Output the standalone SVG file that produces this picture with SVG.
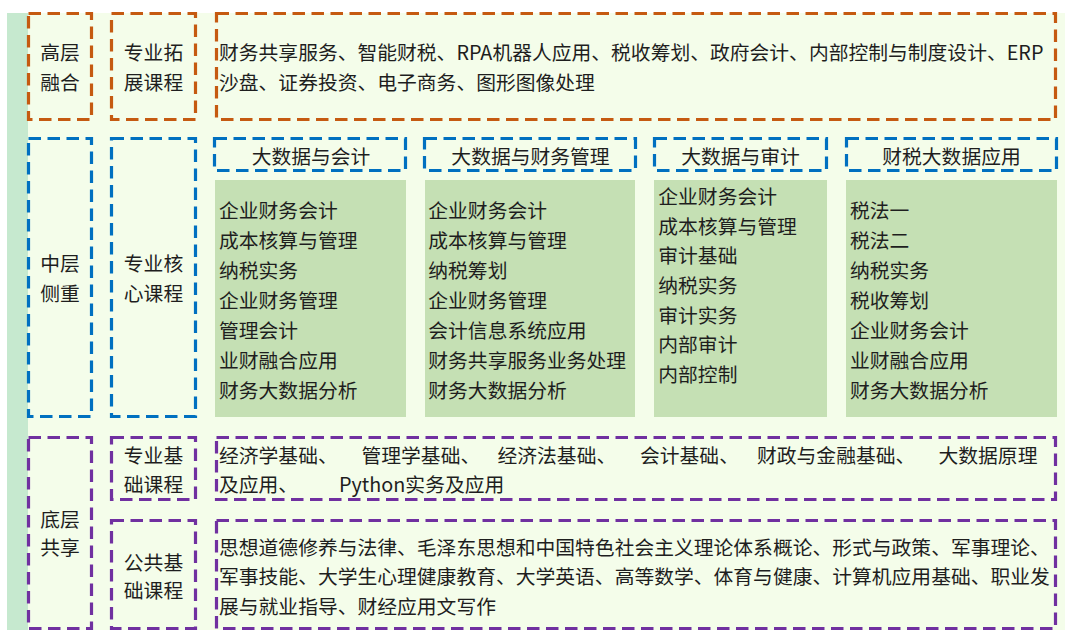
<svg xmlns="http://www.w3.org/2000/svg" width="1065" height="630" viewBox="0 0 1065 630">
<style>
text{font-family:"Noto Sans CJK SC","Noto Sans",sans-serif;font-size:19.8px;fill:#1e1e1e;dominant-baseline:central}
.c{text-anchor:middle}
.box{fill:none;stroke-width:3.2;stroke-dasharray:12.5 6.5}
.o{stroke:#C55A11}
.b{stroke:#0070C0}
.p{stroke:#7030A0}
.g{fill:#C5E0B4}
</style>
<rect x="7" y="13" width="1058" height="617" fill="#F4FDEA"/>
<rect x="7" y="13" width="21" height="617" fill="#C6E9CF"/>

<g id="top-label">
<rect class="box o" x="28.5" y="13.5" width="63" height="106"/>
<text class="c" x="60" y="51">高层</text>
<text class="c" x="60" y="81">融合</text>
</g>
<g id="top-cat">
<rect class="box o" x="111.5" y="13.5" width="84" height="106"/>
<text class="c" x="153.5" y="51">专业拓</text>
<text class="c" x="153.5" y="81">展课程</text>
</g>
<g id="top-content">
<rect class="box o" x="216.5" y="13.5" width="839" height="106"/>
<text x="219" y="51">财务共享服务、智能财税、RPA机器人应用、税收筹划、政府会计、内部控制与制度设计、ERP</text>
<text x="219" y="81">沙盘、证券投资、电子商务、图形图像处理</text>
</g>

<g id="mid-label">
<rect class="box b" x="28.5" y="138.5" width="63" height="278"/>
<text class="c" x="60" y="262.5">中层</text>
<text class="c" x="60" y="292.3">侧重</text>
</g>
<g id="mid-cat">
<rect class="box b" x="111.5" y="138.5" width="84" height="278"/>
<text class="c" x="153.5" y="262.5">专业核</text>
<text class="c" x="153.5" y="292.3">心课程</text>
</g>

<g id="col1">
<rect class="box b" x="214.5" y="138.5" width="191" height="32"/>
<text class="c" x="311" y="155">大数据与会计</text>
<rect class="g" x="215" y="180" width="191" height="237"/>
<text x="219" y="209.7">企业财务会计</text>
<text x="219" y="239.6">成本核算与管理</text>
<text x="219" y="269.5">纳税实务</text>
<text x="219" y="299.4">企业财务管理</text>
<text x="219" y="329.3">管理会计</text>
<text x="219" y="359.2">业财融合应用</text>
<text x="219" y="389.1">财务大数据分析</text>
</g>
<g id="col2">
<rect class="box b" x="424.5" y="138.5" width="211" height="32"/>
<text class="c" x="530.5" y="155">大数据与财务管理</text>
<rect class="g" x="425" y="180" width="210" height="237"/>
<text x="428.3" y="209.7">企业财务会计</text>
<text x="428.3" y="239.6">成本核算与管理</text>
<text x="428.3" y="269.5">纳税筹划</text>
<text x="428.3" y="299.4">企业财务管理</text>
<text x="428.3" y="329.3">会计信息系统应用</text>
<text x="428.3" y="359.2">财务共享服务业务处理</text>
<text x="428.3" y="389.1">财务大数据分析</text>
</g>
<g id="col3">
<rect class="box b" x="654.5" y="138.5" width="172" height="32"/>
<text class="c" x="740.5" y="155">大数据与审计</text>
<rect class="g" x="654" y="180" width="173" height="237"/>
<text x="658.3" y="195.7">企业财务会计</text>
<text x="658.3" y="225.3">成本核算与管理</text>
<text x="658.3" y="254.9">审计基础</text>
<text x="658.3" y="284.5">纳税实务</text>
<text x="658.3" y="314.1">审计实务</text>
<text x="658.3" y="343.7">内部审计</text>
<text x="658.3" y="373.3">内部控制</text>
</g>
<g id="col4">
<rect class="box b" x="846.5" y="138.5" width="210" height="32"/>
<text class="c" x="951.5" y="155">财税大数据应用</text>
<rect class="g" x="846" y="180" width="211" height="237"/>
<text x="850" y="209.7">税法一</text>
<text x="850" y="239.6">税法二</text>
<text x="850" y="269.5">纳税实务</text>
<text x="850" y="299.4">税收筹划</text>
<text x="850" y="329.3">企业财务会计</text>
<text x="850" y="359.2">业财融合应用</text>
<text x="850" y="389.1">财务大数据分析</text>
</g>

<g id="bot-label">
<rect class="box p" x="28.5" y="437.5" width="63" height="191"/>
<text class="c" x="60" y="518.5">底层</text>
<text class="c" x="60" y="546.5">共享</text>
</g>
<g id="bot-cat1">
<rect class="box p" x="111.5" y="437.5" width="84" height="62"/>
<text class="c" x="153.5" y="454">专业基</text>
<text class="c" x="153.5" y="483">础课程</text>
</g>
<g id="bot-content1">
<rect class="box p" x="216.5" y="437.5" width="839" height="62"/>
<text y="454"><tspan x="219">经济学基础、</tspan><tspan x="361.5">管理学基础、</tspan><tspan x="497.5">经济法基础、</tspan><tspan x="640">会计基础、</tspan><tspan x="757">财政与金融基础、</tspan><tspan x="938.5">大数据原理</tspan></text>
<text y="483"><tspan x="219">及应用、</tspan><tspan x="339">Python实务及应用</tspan></text>
</g>
<g id="bot-cat2">
<rect class="box p" x="111.5" y="520.5" width="84" height="108"/>
<text class="c" x="153.5" y="561">公共基</text>
<text class="c" x="153.5" y="589">础课程</text>
</g>
<g id="bot-content2">
<rect class="box p" x="216.5" y="520.5" width="839" height="108"/>
<text x="219" y="546">思想道德修养与法律、毛泽东思想和中国特色社会主义理论体系概论、形式与政策、军事理论、</text>
<text x="219" y="575.5">军事技能、大学生心理健康教育、大学英语、高等数学、体育与健康、计算机应用基础、职业发</text>
<text x="219" y="605">展与就业指导、财经应用文写作</text>
</g>
</svg>
